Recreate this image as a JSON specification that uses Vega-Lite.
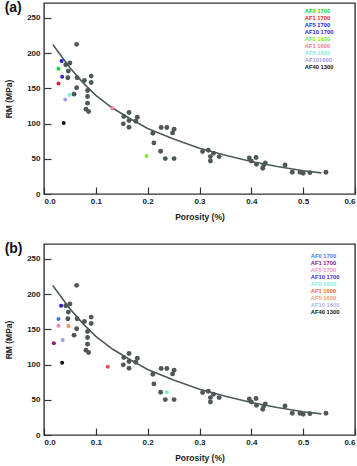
{
  "$schema": "https://vega.github.io/schema/vega-lite/v6.json",
  "padding": {"left": 3, "top": 0, "right": 0, "bottom": 0},
  "background": "white",
  "datasets": {
    "grey": [
      {"p": 0.063, "rm": 212.3}, {"p": 0.042, "rm": 183.4}, {"p": 0.050, "rm": 185.8}, {"p": 0.047, "rm": 174.4},
      {"p": 0.046, "rm": 164.9}, {"p": 0.064, "rm": 164.9}, {"p": 0.063, "rm": 150.7}, {"p": 0.058, "rm": 141.7},
      {"p": 0.078, "rm": 161.1}, {"p": 0.084, "rm": 146.9}, {"p": 0.084, "rm": 138.4}, {"p": 0.084, "rm": 128.9},
      {"p": 0.081, "rm": 120.4}, {"p": 0.086, "rm": 117.1}, {"p": 0.091, "rm": 167.3}, {"p": 0.091, "rm": 158.3},
      {"p": 0.153, "rm": 99.5}, {"p": 0.154, "rm": 110.0}, {"p": 0.164, "rm": 115.6}, {"p": 0.164, "rm": 104.3},
      {"p": 0.164, "rm": 94.8}, {"p": 0.177, "rm": 103.3}, {"p": 0.180, "rm": 109.0}, {"p": 0.210, "rm": 86.3},
      {"p": 0.212, "rm": 72.5}, {"p": 0.226, "rm": 94.3}, {"p": 0.225, "rm": 60.7}, {"p": 0.234, "rm": 50.2},
      {"p": 0.237, "rm": 94.3}, {"p": 0.248, "rm": 86.7}, {"p": 0.251, "rm": 91.9}, {"p": 0.251, "rm": 50.2},
      {"p": 0.306, "rm": 60.2}, {"p": 0.317, "rm": 62.1}, {"p": 0.321, "rm": 53.1}, {"p": 0.321, "rm": 46.9},
      {"p": 0.327, "rm": 57.8}, {"p": 0.338, "rm": 53.1}, {"p": 0.396, "rm": 51.2}, {"p": 0.400, "rm": 46.9},
      {"p": 0.409, "rm": 51.7}, {"p": 0.410, "rm": 42.2}, {"p": 0.422, "rm": 36.5}, {"p": 0.424, "rm": 41.2},
      {"p": 0.427, "rm": 44.1}, {"p": 0.465, "rm": 41.2}, {"p": 0.479, "rm": 30.8}, {"p": 0.494, "rm": 30.8},
      {"p": 0.500, "rm": 29.4}, {"p": 0.513, "rm": 30.3}, {"p": 0.544, "rm": 30.8}
    ],
    "fit": [
      {"p": 0.017, "rm": 212}, {"p": 0.03, "rm": 199}, {"p": 0.05, "rm": 179}, {"p": 0.075, "rm": 158},
      {"p": 0.1, "rm": 140}, {"p": 0.132, "rm": 122}, {"p": 0.168, "rm": 106}, {"p": 0.2, "rm": 93},
      {"p": 0.25, "rm": 78}, {"p": 0.3, "rm": 65}, {"p": 0.35, "rm": 55}, {"p": 0.4, "rm": 46},
      {"p": 0.45, "rm": 39}, {"p": 0.5, "rm": 33}, {"p": 0.535, "rm": 30}
    ],
    "colA": [
      {"s": "AF0 1700", "p": 0.028, "rm": 177.7}, {"s": "AF1 1700", "p": 0.028, "rm": 156.9},
      {"s": "AF5 1700", "p": 0.034, "rm": 188.6}, {"s": "AF10 1700", "p": 0.035, "rm": 166.4},
      {"s": "AF0 1600", "p": 0.198, "rm": 54.0}, {"s": "AF1 1600", "p": 0.132, "rm": 121.8},
      {"s": "AF5 1600", "p": 0.049, "rm": 140.3}, {"s": "AF101600", "p": 0.041, "rm": 134.1},
      {"s": "AF40 1300", "p": 0.038, "rm": 100.9}
    ],
    "colB": [
      {"s": "AF0 1700", "p": 0.028, "rm": 164.6}, {"s": "AF1 1700", "p": 0.019, "rm": 130.1},
      {"s": "AF5 1700", "p": 0.028, "rm": 155.0}, {"s": "AF10 1700", "p": 0.033, "rm": 183.3},
      {"s": "AF0 1600", "p": 0.237, "rm": 60.8}, {"s": "AF1 1600", "p": 0.123, "rm": 96.7},
      {"s": "AF5 1600", "p": 0.047, "rm": 154.5}, {"s": "AF10 1600", "p": 0.036, "rm": 134.9},
      {"s": "AF40 1300", "p": 0.035, "rm": 102.4}
    ]
  },
  "config": {
    "font": "Liberation Sans",
    "view": {"stroke": "#333333", "strokeWidth": 1.4},
    "axis": {
      "labelFont": "Liberation Sans", "labelFontWeight": "bold", "labelFontSize": 8, "labelColor": "#222",
      "titleFont": "Liberation Sans", "titleFontWeight": "bold", "titleFontSize": 8.5, "titleColor": "#222",
      "grid": false
    },
    "legend": {"labelFont": "Liberation Sans"},
    "title": {"font": "Liberation Sans", "fontWeight": "bold", "fontSize": 14, "anchor": "start", "frame": "bounds", "color": "#111"}
  },
  "spacing": 19,
  "resolve": {"scale": {"color": "independent"}, "legend": {"color": "independent"}},
  "vconcat": [
    {
      "title": {"text": "(a)", "dy": 16},
      "width": 311, "height": 191,
      "encoding": {
        "x": {"field": "p", "type": "quantitative", "scale": {"domain": [0, 0.6]},
              "axis": {"title": "Porosity (%)", "values": [0, 0.1, 0.2, 0.3, 0.4, 0.5, 0.6], "format": ".1f", "domain": false, "offset": -7, "tickSize": 7, "tickWidth": 1.2, "tickColor": "#333", "labelPadding": 3, "titlePadding": 7, "labelOverlap": false}},
        "y": {"field": "rm", "type": "quantitative", "scale": {"domain": [0, 271]},
              "axis": {"title": "RM (MPa)", "values": [0, 50, 100, 150, 200, 250], "domain": false, "offset": -7, "tickSize": 7, "tickWidth": 1.2, "tickColor": "#333", "labelPadding": 4, "titlePadding": 13, "labelOverlap": false}}
      },
      "layer": [
        {"data": {"name": "fit"}, "mark": {"type": "line", "color": "#4d5a5a", "strokeWidth": 1.6}},
        {"data": {"name": "grey"}, "mark": {"type": "circle", "color": "#4f5858", "opacity": 1, "size": 24}},
        {"data": {"name": "colA"}, "mark": {"type": "circle", "opacity": 1, "size": 16},
         "encoding": {
           "color": {"field": "s", "type": "nominal",
             "scale": {"domain": ["AF0 1700", "AF1 1700", "AF5 1700", "AF10 1700", "AF0 1600", "AF1 1600", "AF5 1600", "AF101600", "AF40 1300"],
                       "range": ["#22d02c", "#ea2040", "#2424dc", "#3422c8", "#82ea30", "#f27a9e", "#80ecdc", "#a49cea", "#111111"]},
             "legend": {"title": null, "orient": "none", "legendX": 255, "legendY": 5, "symbolSize": 0, "symbolStrokeWidth": 0, "symbolOpacity": 0,
               "labelOffset": 0, "labelFontSize": 5.8, "labelFontWeight": "bold", "rowPadding": 0, "padding": 0, "clipHeight": 5.8,
               "labelColor": {"expr": "datum.value === 'AF0 1700' ? '#22d02c' : datum.value === 'AF1 1700' ? '#ea2040' : datum.value === 'AF5 1700' ? '#2424dc' : datum.value === 'AF10 1700' ? '#3422c8' : datum.value === 'AF0 1600' ? '#82ea30' : datum.value === 'AF1 1600' ? '#f27a9e' : datum.value === 'AF5 1600' ? '#80ecdc' : datum.value === 'AF101600' ? '#a49cea' : '#111111'"}}
           }
         }}
      ]
    },
    {
      "title": {"text": "(b)", "dy": 16},
      "width": 311, "height": 191,
      "encoding": {
        "x": {"field": "p", "type": "quantitative", "scale": {"domain": [0, 0.6]},
              "axis": {"title": "Porosity (%)", "values": [0, 0.1, 0.2, 0.3, 0.4, 0.5, 0.6], "format": ".1f", "domain": false, "offset": -7, "tickSize": 7, "tickWidth": 1.2, "tickColor": "#333", "labelPadding": 3, "titlePadding": 7, "labelOverlap": false}},
        "y": {"field": "rm", "type": "quantitative", "scale": {"domain": [0, 271]},
              "axis": {"title": "RM (MPa)", "values": [0, 50, 100, 150, 200, 250], "domain": false, "offset": -7, "tickSize": 7, "tickWidth": 1.2, "tickColor": "#333", "labelPadding": 4, "titlePadding": 13, "labelOverlap": false}}
      },
      "layer": [
        {"data": {"name": "fit"}, "mark": {"type": "line", "color": "#4d5a5a", "strokeWidth": 1.6}},
        {"data": {"name": "grey"}, "mark": {"type": "circle", "color": "#4f5858", "opacity": 1, "size": 24}},
        {"data": {"name": "colB"}, "mark": {"type": "circle", "opacity": 1, "size": 16},
         "encoding": {
           "color": {"field": "s", "type": "nominal",
             "scale": {"domain": ["AF0 1700", "AF1 1700", "AF5 1700", "AF10 1700", "AF0 1600", "AF1 1600", "AF5 1600", "AF10 1600", "AF40 1300"],
                       "range": ["#3e6ee8", "#8a1a78", "#f286c0", "#2a1ad0", "#74eede", "#ee4a40", "#f09060", "#a596ea", "#111111"]},
             "legend": {"title": null, "orient": "none", "legendX": 261, "legendY": 9, "symbolSize": 0, "symbolStrokeWidth": 0, "symbolOpacity": 0,
               "labelOffset": 0, "labelFontSize": 5.8, "labelFontWeight": "bold", "rowPadding": 0, "padding": 0, "clipHeight": 6.2,
               "labelColor": {"expr": "datum.value === 'AF0 1700' ? '#4a7ae8' : datum.value === 'AF1 1700' ? '#8a1a78' : datum.value === 'AF5 1700' ? '#f590c8' : datum.value === 'AF10 1700' ? '#4a28c0' : datum.value === 'AF0 1600' ? '#80f0e0' : datum.value === 'AF1 1600' ? '#f06a30' : datum.value === 'AF5 1600' ? '#f5a070' : datum.value === 'AF10 1600' ? '#b8b0ee' : '#111111'"}}
           }
         }}
      ]
    }
  ]
}
